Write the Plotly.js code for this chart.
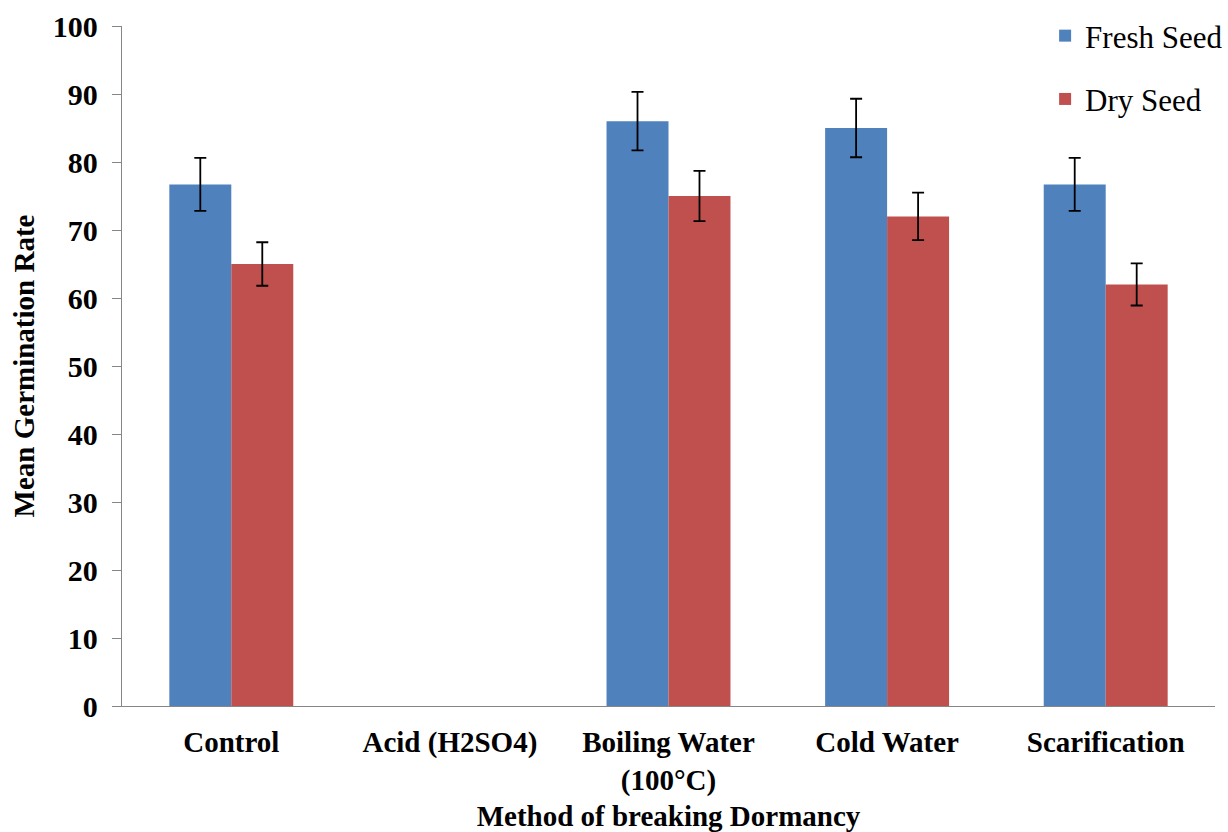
<!DOCTYPE html>
<html>
<head>
<meta charset="utf-8">
<script src="https://cdn.plot.ly/plotly-3.0.1.min.js"></script>
<style>html,body{margin:0;padding:0;background:#fff;}#chart{width:1228px;height:832px;}</style>
</head>
<body>
<div id="chart"></div>
<script>
const categories = ["Control", "Acid (H2SO4)", "Boiling Water<br>(100°C)", "Cold Water", "Scarification"];
const freshSeed = [76.7, null, 86, 85, 76.7];
const freshErr = [3.9, 0, 4.3, 4.3, 3.9];
const drySeed = [65, null, 75, 72, 62];
const dryErr = [3.2, 0, 3.7, 3.5, 3.1];
const yTicks = [0, 10, 20, 30, 40, 50, 60, 70, 80, 90, 100];

const errStyle = {type: 'data', visible: true, color: '#000', thickness: 1.8, width: 6};

const traces = [
  {type: 'bar', name: 'Fresh Seed', x: categories, y: freshSeed, legendgroup: 'a',
   marker: {color: '#4F81BD'}, error_y: Object.assign({array: freshErr}, errStyle)},
  {type: 'bar', name: 'Dry Seed', x: categories, y: drySeed, legendgroup: 'b',
   marker: {color: '#C0504D'}, error_y: Object.assign({array: dryErr}, errStyle)}
];

const layout = {
  width: 1228, height: 832,
  margin: {l: 122, r: 13, t: 26, b: 126, autoexpand: false},
  paper_bgcolor: '#fff', plot_bgcolor: '#fff',
  barmode: 'group', bargap: 0.433, bargroupgap: 0,
  font: {family: '"Liberation Serif", "Times New Roman", serif', color: '#000'},
  showlegend: true,
  legend: {x: 1.012, xanchor: 'right', y: 1.025, yanchor: 'top', bgcolor: 'rgba(0,0,0,0)',
           font: {size: 31, color: '#000'}, tracegroupgap: 20, itemwidth: 30},
  xaxis: {
    showline: true, linecolor: '#868686', linewidth: 1.3, ticks: '', showgrid: false,
    tickfont: {size: 29, family: '"Liberation Serif", serif', weight: 'bold'},
    ticklabelstandoff: 10,
    title: {text: '<b>Method of breaking Dormancy</b>', font: {size: 29}, standoff: 22}
  },
  yaxis: {
    range: [0, 100], tickvals: yTicks, showline: true, linecolor: '#868686', linewidth: 1.3,
    ticks: 'outside', ticklen: 9, tickcolor: '#868686', showgrid: false, zeroline: false,
    tickfont: {size: 30, family: '"Liberation Serif", serif', weight: 'bold'},
    ticklabelstandoff: 8,
    title: {text: '<b>Mean Germination Rate</b>', font: {size: 29}, standoff: 9}
  }
};

Plotly.newPlot('chart', traces, layout, {displayModeBar: false, staticPlot: true});
</script>
</body>
</html>
